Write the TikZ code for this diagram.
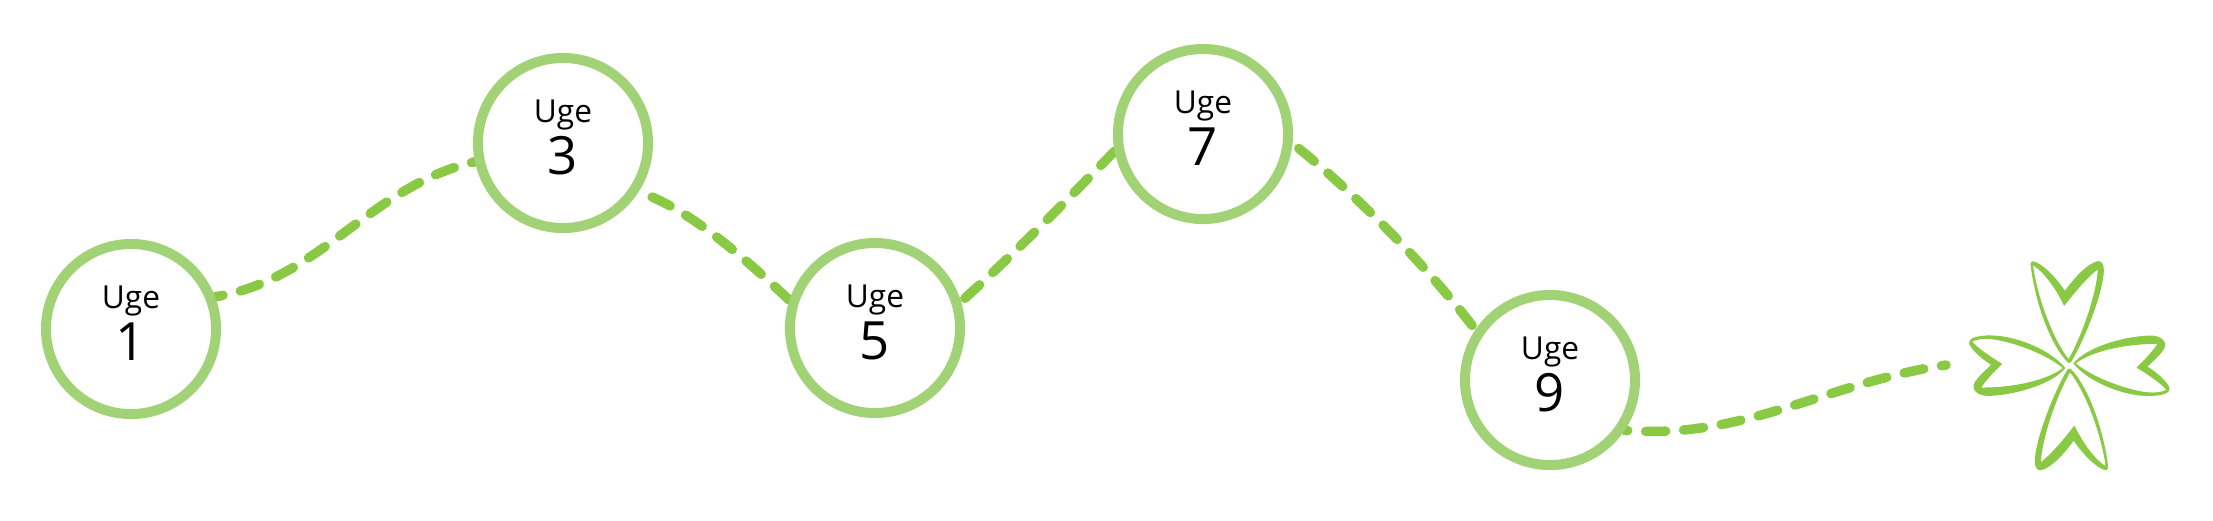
\documentclass[tikz,border=0pt]{standalone}
\usepackage{fontspec}
\setmainfont{Open Sans}
\usetikzlibrary{backgrounds}
\definecolor{ringgreen}{HTML}{A2D276}
\definecolor{trailgreen}{HTML}{8AC943}
\tikzset{
  week/.style={circle, draw=ringgreen, line width=0.1cm, fill=white, minimum size=1.7cm, inner sep=0pt},
  uge/.style={anchor=base, inner sep=0pt, font=\fontsize{9pt}{10pt}\selectfont},
  num/.style={anchor=base, inner sep=0pt, font=\fontsize{15pt}{17pt}\selectfont},
  trail/.style={draw=trailgreen, line width=0.095cm, line cap=round, dash pattern=on 0.2cm off 0.18cm},
  petal/.style={fill=trailgreen, draw=trailgreen, line width=0.3pt, line join=round, even odd rule, scale=1/3},
  petala/.pic={
    \path[petal]
      (-2,-10) .. controls (-50,-55) and (-100,-180) .. (-115,-305) .. controls (-116,-312) and (-110,-313) .. (-100,-309)
      .. controls (-70,-295) and (-35,-255) .. (-13,-222) .. controls (15,-262) and (55,-305) .. (85,-312)
      .. controls (98,-314) and (102,-300) .. (102,-285) .. controls (100,-220) and (45,-80) .. (4,-12) -- cycle
      (-2,-17) .. controls (-45,-70) and (-95,-190) .. (-111,-304) .. controls (-75,-285) and (-35,-225) .. (-15,-182)
      .. controls (10,-215) and (55,-270) .. (87,-292) .. controls (85,-220) and (40,-90) .. (-2,-17) -- cycle;
  },
  petalb/.pic={
    \path[petal]
      (14,-7) .. controls (50,-50) and (150,-85) .. (240,-89) .. controls (275,-90) and (295,-70) .. (282,-50)
      .. controls (272,-33) and (245,-10) .. (232,3) .. controls (260,20) and (295,50) .. (299,68)
      .. controls (300,80) and (285,85) .. (262,88) .. controls (180,98) and (60,50) .. (14,-7) -- cycle
      (17,-7) .. controls (60,-42) and (160,-68) .. (267,-67) .. controls (250,-40) and (225,-15) .. (204,5)
      .. controls (235,25) and (275,50) .. (294,73) .. controls (270,85) and (235,85) .. (190,73)
      .. controls (120,55) and (55,25) .. (17,-7) -- cycle;
  }
}
\begin{document}
\begin{tikzpicture}[x=0.01cm, y=-0.01cm]
  \useasboundingbox (0,0) rectangle (2213,520);
  % weeks
  \foreach \n/\x/\y in {1/131/329, 3/563/143, 5/875/328, 7/1203/134, 9/1550/380} {
    \node[week] (w\n) at (\x,\y) {};
    \node[uge] (u\n) at (\x,\y-21) {Uge};
    \node[num] (d\n) at (\x,\y+31) {\n};
  }
  % flower
  \coordinate (F) at (2069.3,365.7);
  \coordinate (Fin) at (1946,365);
  \pic at (F) {petala};
  \pic[rotate=180] at (F) {petala};
  \pic at (F) {petalb};
  \pic[rotate=180] at (F) {petalb};
  % trails go under the rings
  \begin{pgfonlayer}{background}
    \draw[trail, dash phase=0.12cm] (w1.21) .. controls (320,280) and (370,186) .. (w3.192);
    \draw[trail, dash phase=0.235cm] (w3.-33) .. controls (680,205) and (730,244) .. (w5.162);
    \draw[trail, dash phase=0.33cm] (w5.17) .. controls (1015,253) and (1065,202) .. (w7.191);
    \draw[trail, dash phase=0.3cm] (w7.-6) .. controls (1345,185) and (1420,257) .. (w9.146);
    \draw[trail, dash phase=0.17cm] (w9.-34) .. controls (1745,440) and (1825,383) .. (Fin);
  \end{pgfonlayer}
\end{tikzpicture}
\end{document}
